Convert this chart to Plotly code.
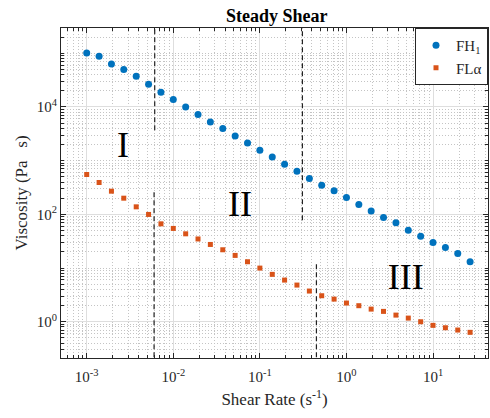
import plotly.graph_objects as go

shear_rate = [0.001, 0.00139, 0.00193, 0.00268, 0.00373, 0.00518, 0.0072,
              0.01, 0.0139, 0.0193, 0.0268, 0.0373, 0.0518, 0.072,
              0.1, 0.139, 0.193, 0.268, 0.373, 0.518, 0.72,
              1.0, 1.39, 1.93, 2.68, 3.73, 5.18, 7.2,
              10.0, 13.9, 19.3, 26.8]

visc_FH1 = [1.01e5, 8.8e4, 6.3e4, 4.97e4, 3.73e4, 2.64e4, 1.88e4,
            1.37e4, 1.0e4, 7.2e3, 5.26e3, 3.97e3, 2.89e3, 2.14e3,
            1.56e3, 1.17e3, 859, 637, 466, 349, 274,
            206, 153, 116, 87.5, 69.5, 50.8, 39.3,
            30.0, 24.2, 18.7, 13.1]

visc_FLa = [552, 392, 270, 200, 138, 99.6, 66.6,
            54.7, 43.4, 34.8, 27.5, 21.9, 17.2, 13.1,
            9.98, 7.63, 5.97, 4.82, 3.73, 3.05, 2.64,
            2.23, 1.99, 1.72, 1.56, 1.33, 1.17, 1.0,
            0.857, 0.773, 0.701, 0.635]

# dashed region boundaries: (x, y_bottom, y_top)
boundaries = [(0.0061, 3.7e3, 1e6), (0.31, 78, 1e6),
              (0.006, 0.01, 282), (0.45, 0.01, 12.5)]

region_labels = ["I", "II", "III"]
region_x = [0.00262, 0.0589, 4.83]
region_y = [1710, 138, 5.97]

x_tickvals = [1e-3, 1e-2, 1e-1, 1, 10]
x_ticktext = ["10<sup>-3</sup>", "10<sup>-2</sup>", "10<sup>-1</sup>",
              "10<sup>0</sup>", "10<sup>1</sup>"]
y_tickvals = [1, 100, 1e4]
y_ticktext = ["10<sup>0</sup>", "10<sup>2</sup>", "10<sup>4</sup>"]

x_minor = [k * 10.0 ** n for n in range(-4, 2) for k in range(2, 10)]
y_minor = [k * 10.0 ** n for n in range(-1, 6) for k in range(2, 10)] + [10, 1e3, 1e5]

FONT = "Liberation Serif"
BLUE = "#0072BD"
ORANGE = "#D95319"

fig = go.Figure()

for bx, b0, b1 in boundaries:
    fig.add_trace(go.Scatter(x=[bx, bx], y=[b0, b1], mode="lines",
                             line=dict(color="#222222", width=1.2, dash="5px,3px"),
                             showlegend=False, hoverinfo="skip"))

fig.add_trace(go.Scatter(x=shear_rate, y=visc_FH1, mode="markers", name="FH<sub>1</sub>",
                         marker=dict(symbol="circle", size=7, color=BLUE)))
fig.add_trace(go.Scatter(x=shear_rate, y=visc_FLa, mode="markers", name="FLα",
                         marker=dict(symbol="square", size=5, color=ORANGE)))

fig.add_trace(go.Scatter(x=region_x, y=region_y, mode="text", text=region_labels,
                         textfont=dict(family=FONT, size=36, color="black"),
                         textposition="middle center", showlegend=False, hoverinfo="skip"))

axis_common = dict(
    type="log", showline=True, linecolor="#262626", linewidth=1, mirror="ticks",
    ticks="inside", ticklen=5, tickcolor="#262626",
    showgrid=True, gridcolor="#dedede", gridwidth=1,
    tickfont=dict(family=FONT, size=15, color="#262626"),
    zeroline=False, automargin=False,
)

minor_common = dict(ticks="inside", ticklen=3, tickcolor="#262626",
                    showgrid=True, gridcolor="#c4c4c4", griddash="1px,2px", gridwidth=1)

fig.update_xaxes(**axis_common, range=[-3.297, 1.635],
                 tickvals=x_tickvals, ticktext=x_ticktext, ticklabelstandoff=5,
                 minor=dict(tickvals=x_minor, **minor_common),
                 title=dict(text="Shear Rate (s<sup>-1</sup>)",
                            font=dict(family=FONT, size=17, color="#262626"), standoff=9))
fig.update_yaxes(**axis_common, range=[-0.675, 5.47],
                 tickvals=y_tickvals, ticktext=y_ticktext,
                 minor=dict(tickvals=y_minor, **minor_common),
                 title=dict(text="Viscosity (Pa\u00a0\u00a0 s)",
                            font=dict(family=FONT, size=17, color="#262626"), standoff=4))

fig.update_layout(
    template="none",
    width=490, height=418,
    margin=dict(l=61, r=2, t=28, b=60),
    paper_bgcolor="white", plot_bgcolor="white",
    title=dict(text="<b>Steady Shear</b>", x=0.565, xanchor="center", y=0.962, yanchor="middle",
               font=dict(family=FONT, size=18, color="black")),
    legend=dict(x=1, y=1, xanchor="right", yanchor="top",
                bordercolor="#262626", borderwidth=1, bgcolor="white",
                font=dict(family=FONT, size=15, color="#262626"),
                itemwidth=30, tracegroupgap=0),
    showlegend=True,
)

fig.write_html("out.html", config={"displayModeBar": False},
               post_script="document.body.style.margin='0';document.body.style.overflow='hidden';")
